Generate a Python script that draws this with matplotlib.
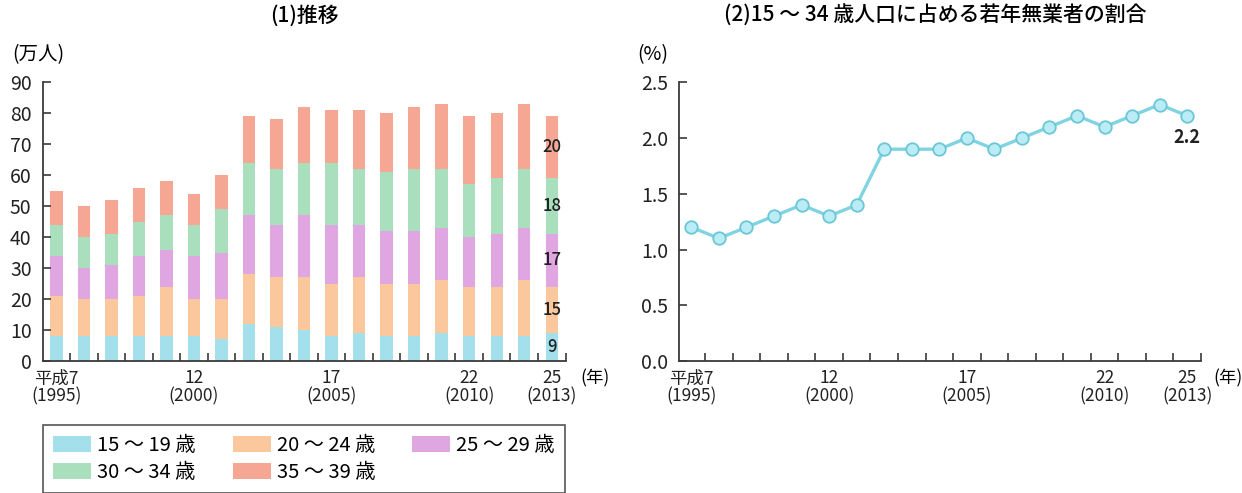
import matplotlib
matplotlib.use('Agg')
import matplotlib.pyplot as plt
from matplotlib.patches import Patch

plt.rcParams['font.family'] = ['Noto Sans CJK JP', 'DejaVu Sans']

# x軸ラベル (平成7年〜25年)
x_labels = ['平成7\n(1995)', '', '', '', '', '12\n(2000)', '', '', '', '',
            '17\n(2005)', '', '', '', '', '22\n(2010)', '', '', '25\n(2013)']

# (1) 推移 (万人)
age_groups = ['15 〜 19 歳', '20 〜 24 歳', '25 〜 29 歳', '30 〜 34 歳', '35 〜 39 歳']
v_15_19 = [8, 8, 8, 8, 8, 8, 7, 12, 11, 10, 8, 9, 8, 8, 9, 8, 8, 8, 9]
v_20_24 = [13, 12, 12, 13, 16, 12, 13, 16, 16, 17, 17, 18, 17, 17, 17, 16, 16, 18, 15]
v_25_29 = [13, 10, 11, 13, 12, 14, 15, 19, 17, 20, 19, 17, 17, 17, 17, 16, 17, 17, 17]
v_30_34 = [10, 10, 10, 11, 11, 10, 14, 17, 18, 17, 20, 18, 19, 20, 19, 17, 18, 19, 18]
v_35_39 = [11, 10, 11, 11, 11, 10, 11, 15, 16, 18, 17, 19, 19, 20, 21, 22, 21, 21, 20]

# (2) 15〜34歳人口に占める若年無業者の割合 (%)
ratio = [1.2, 1.1, 1.2, 1.3, 1.4, 1.3, 1.4, 1.9, 1.9, 1.9, 2.0, 1.9, 2.0, 2.1, 2.2, 2.1, 2.2, 2.3, 2.2]

colores = ['#a3e0ec', '#fbc79c', '#dfa6e2', '#a9dfbd', '#f6a793']
eje = '#3a3a3a'

W, H = 1242, 493
fig = plt.figure(figsize=(W / 100, H / 100), dpi=100)

def px(x0, y0, x1, y1):
    return [x0 / W, 1 - y1 / H, (x1 - x0) / W, (y1 - y0) / H]

ax1 = fig.add_axes(px(42.7, 82.3, 565.5, 361))
ax2 = fig.add_axes(px(679, 82.3, 1201, 361))

n = len(ratio)
xs = list(range(n))

# ---------------- (1) 積み上げ棒 ----------------
series = [v_15_19, v_20_24, v_25_29, v_30_34, v_35_39]
bottom = [0] * n
for vals, col in zip(series, colores):
    ax1.bar(xs, vals, width=0.45, bottom=bottom, color=col, edgecolor='none')
    bottom = [b + v for b, v in zip(bottom, vals)]

# 最新年の内訳
base = 0
for vals in series:
    v = vals[-1]
    ax1.text(n - 1, base + v / 2, str(v), ha='center', va='center',
             fontsize=12, fontweight='medium', color='#222222')
    base += v

ax1.set_xlim(-0.5, n - 0.5)
ax1.set_ylim(0, 90)
ax1.set_yticks(range(0, 91, 10))

# ---------------- (2) 折れ線 ----------------
ax2.plot(xs, ratio, color='#80d4e2', linewidth=2.4, marker='o', markersize=9,
         markerfacecolor='#b9ecf4', markeredgecolor='#6cc6d6', markeredgewidth=1.3)
ax2.annotate(f'{ratio[-1]:.1f}', xy=(n - 1, ratio[-1]), xytext=(0, -16),
             textcoords='offset points', ha='center', va='center',
             fontsize=13, fontweight='bold', color='#222222')
ax2.set_xlim(-0.45, n - 0.5)
ax2.set_ylim(0, 2.5)
ax2.set_yticks([0, 0.5, 1.0, 1.5, 2.0, 2.5])
ax2.set_yticklabels(['0.0', '0.5', '1.0', '1.5', '2.0', '2.5'])

# 共通の軸設定
for ax in (ax1, ax2):
    for s in ('top', 'right'):
        ax.spines[s].set_visible(False)
    for s in ('left', 'bottom'):
        ax.spines[s].set_color(eje)
        ax.spines[s].set_linewidth(1.3)
    lab_pos = [i for i, l in enumerate(x_labels) if l]
    ax.set_xticks(lab_pos)
    ax.set_xticklabels([x_labels[i] for i in lab_pos], fontsize=12.5,
                       linespacing=1.0, color='#222222')
    ax.tick_params(axis='x', which='major', length=0, pad=6)
    ax.set_xticks([i + 0.5 for i in range(n)], minor=True)
    ax.tick_params(axis='x', which='minor', direction='in', length=6,
                   width=1.2, color=eje)
    ax.tick_params(axis='y', direction='in', length=6, width=1.2, color=eje,
                   labelsize=14, labelcolor='#222222', pad=8)

# タイトル・単位
fig.text(304 / W, 1 - 16 / H, '(1)推移', ha='center', va='center',
         fontsize=15, fontweight='medium')
fig.text(935 / W, 1 - 16 / H, '(2)15 〜 34 歳人口に占める若年無業者の割合',
         ha='center', va='center', fontsize=15, fontweight='medium')
fig.text(12 / W, 1 - 55 / H, '(万人)', ha='left', va='center', fontsize=14)
fig.text(637 / W, 1 - 55 / H, '(%)', ha='left', va='center', fontsize=14)
fig.text(580 / W, 1 - 378 / H, '(年)', ha='left', va='center', fontsize=12.5)
fig.text(1213 / W, 1 - 378 / H, '(年)', ha='left', va='center', fontsize=12.5)

# 凡例 (行順に並べる)
handles = [Patch(facecolor=c, edgecolor='none', label=l) for c, l in zip(colores, age_groups)]
orden = [0, 3, 1, 4, 2]
leg = fig.legend([handles[i] for i in orden], [age_groups[i] for i in orden],
                 ncol=3, loc='upper left', mode='expand',
                 bbox_to_anchor=(43 / W, 1 - 500 / H, 522 / W, 75 / H),
                 borderaxespad=0, fontsize=14.5, handlelength=1.9, handleheight=0.8,
                 handletextpad=0.3, columnspacing=1.0, labelspacing=0.3,
                 borderpad=0.5, fancybox=False, framealpha=1)
leg.get_frame().set_edgecolor('#555555')
leg.get_frame().set_linewidth(1.2)

fig.savefig('out.png', dpi=100)
